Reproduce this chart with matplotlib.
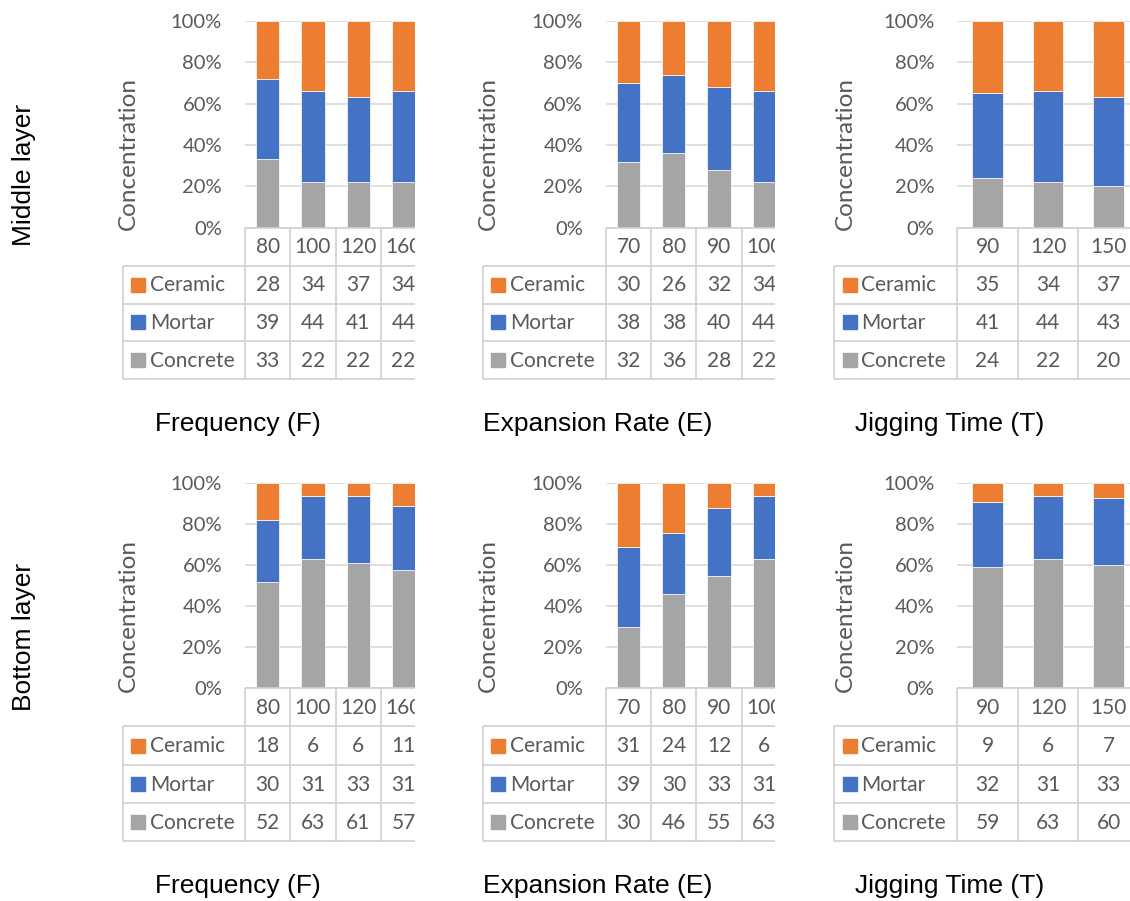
import matplotlib
matplotlib.use("Agg")
import matplotlib.pyplot as plt
import numpy as np

# ---- data -------------------------------------------------------------
freq_levels = ["80", "100", "120", "160"]
exp_levels = ["70", "80", "90", "100"]
jig_levels = ["90", "120", "150"]

materials = ["Ceramic", "Mortar", "Concrete"]

mid_freq_ceramic = [28, 34, 37, 34]
mid_freq_mortar = [39, 44, 41, 44]
mid_freq_concrete = [33, 22, 22, 22]

mid_exp_ceramic = [30, 26, 32, 34]
mid_exp_mortar = [38, 38, 40, 44]
mid_exp_concrete = [32, 36, 28, 22]

mid_jig_ceramic = [35, 34, 37]
mid_jig_mortar = [41, 44, 43]
mid_jig_concrete = [24, 22, 20]

bot_freq_ceramic = [18, 6, 6, 11]
bot_freq_mortar = [30, 31, 33, 31]
bot_freq_concrete = [52, 63, 61, 57]

bot_exp_ceramic = [31, 24, 12, 6]
bot_exp_mortar = [39, 30, 33, 31]
bot_exp_concrete = [30, 46, 55, 63]

bot_jig_ceramic = [9, 6, 7]
bot_jig_mortar = [32, 31, 33]
bot_jig_concrete = [59, 63, 60]

titles = ["Frequency (F)", "Expansion Rate (E)", "Jigging Time (T)"]
layer_names = ["Middle layer", "Bottom layer"]

# ---- style ------------------------------------------------------------
W, H = 1130, 901
colors = {"Ceramic": "#ED7D31", "Mortar": "#4472C4", "Concrete": "#A5A5A5"}
txt_col = "#595959"
grid_col = "#D9D9D9"
line_col = "#D0D0D0"
xl_font = ["Lato", "DejaVu Sans"]
ar_font = ["Liberation Sans", "DejaVu Sans"]

fig = plt.figure(figsize=(W / 100, H / 100), dpi=100)


def rect(left, top, right, bottom):
    return [left / W, 1 - bottom / H, (right - left) / W, (bottom - top) / H]


# horizontal layout per column of panels: legend left, axis x, column width,
# right clip, y-label x, title centre
cols = [
    dict(leg=122.7, ax=245.0, cw=45.3, clip=415.0, ylab=128, cx=238),
    dict(leg=482.7, ax=606.0, cw=45.2, clip=775.0, ylab=488, cx=598),
    dict(leg=834.0, ax=957.3, cw=60.5, clip=1130.0, ylab=845, cx=950),
]
# vertical layout per row: 100% line, 0% line, table bottom, title y, label y
rows = [
    dict(top=21.0, zero=227.7, tbot=379.3, ty=424, lab=175, ylab=154),
    dict(top=483.3, zero=688.3, tbot=841.0, ty=886, lab=637, ylab=616),
]

panels = [
    [(freq_levels, mid_freq_ceramic, mid_freq_mortar, mid_freq_concrete),
     (exp_levels, mid_exp_ceramic, mid_exp_mortar, mid_exp_concrete),
     (jig_levels, mid_jig_ceramic, mid_jig_mortar, mid_jig_concrete)],
    [(freq_levels, bot_freq_ceramic, bot_freq_mortar, bot_freq_concrete),
     (exp_levels, bot_exp_ceramic, bot_exp_mortar, bot_exp_concrete),
     (jig_levels, bot_jig_ceramic, bot_jig_mortar, bot_jig_concrete)],
]


def draw_panel(r, c, levels, ceramic, mortar, concrete):
    R, C = rows[r], cols[c]
    n = len(levels)
    xmax = (C["clip"] - C["ax"]) / C["cw"]
    xmin = -(C["ax"] - C["leg"]) / C["cw"]

    # stacked 100% bars
    ax = fig.add_axes(rect(C["ax"], R["top"], C["clip"], R["zero"]))
    vals = np.array([concrete, mortar, ceramic], dtype=float)
    pct = vals / vals.sum(axis=0) * 100
    x = np.arange(n) + 0.5
    bottom = np.zeros(n)
    for name, series in zip(["Concrete", "Mortar", "Ceramic"], pct):
        ax.bar(x, series, width=0.51, bottom=bottom, color=colors[name],
               edgecolor="white", linewidth=0.5, zorder=3)
        bottom += series
    ax.set_xlim(0, xmax)
    ax.set_ylim(0, 100)
    ax.set_xticks([])
    ax.set_yticks(np.arange(0, 101, 20))
    ax.set_yticklabels([f"{v}%" for v in range(0, 101, 20)],
                       family=xl_font, fontsize=14.5, color=txt_col)
    ax.tick_params(axis="y", length=0, pad=23 * 0.72)
    ax.yaxis.grid(True, color=grid_col, linewidth=1.2, zorder=0)
    for s in ax.spines.values():
        s.set_visible(False)

    # data table underneath
    tb = fig.add_axes(rect(C["leg"], R["zero"], C["clip"], R["tbot"]))
    tb.set_xlim(xmin, xmax)
    tb.set_ylim(4, 0)
    tb.axis("off")
    tb.hlines(0, 0, xmax, color=line_col, lw=1.2, clip_on=False)
    tb.hlines([1, 2, 3, 4], xmin, xmax, color=line_col, lw=1.2, clip_on=False)
    tb.vlines(xmin, 1, 4, color=line_col, lw=1.2, clip_on=False)
    tb.vlines([v for v in range(n + 1) if v <= xmax], 0, 4,
              color=line_col, lw=1.2, clip_on=False)
    for i, lev in enumerate(levels):
        tb.text(i + 0.5, 0.52, lev, ha="center", va="center", family=xl_font,
                fontsize=15, color=txt_col, clip_on=True)
    for j, (name, series) in enumerate(zip(materials, [ceramic, mortar, concrete])):
        yy = j + 1.52
        tb.plot(xmin + 15.5 / C["cw"], yy - 0.02, marker="s", markersize=9.5,
                color=colors[name], linestyle="none", clip_on=False)
        tb.text(xmin + 27.5 / C["cw"], yy, name, ha="left", va="center",
                family=xl_font, fontsize=15, color=txt_col)
        for i, v in enumerate(series):
            tb.text(i + 0.5, yy, str(v), ha="center", va="center",
                    family=xl_font, fontsize=15, color=txt_col, clip_on=True)

    fig.text(C["ylab"] / W, 1 - R["ylab"] / H, "Concentration", rotation=90,
             ha="center", va="center", family=xl_font, fontsize=17.5,
             color=txt_col)
    fig.text(C["cx"] / W, 1 - R["ty"] / H, titles[c], ha="center",
             va="center", family=ar_font, fontsize=19, color="black")


for r in range(2):
    for c in range(3):
        draw_panel(r, c, *panels[r][c])
    fig.text(24 / W, 1 - rows[r]["lab"] / H, layer_names[r], rotation=90,
             ha="center", va="center", family=ar_font, fontsize=19,
             color="black")

fig.savefig("out.png", dpi=100)
